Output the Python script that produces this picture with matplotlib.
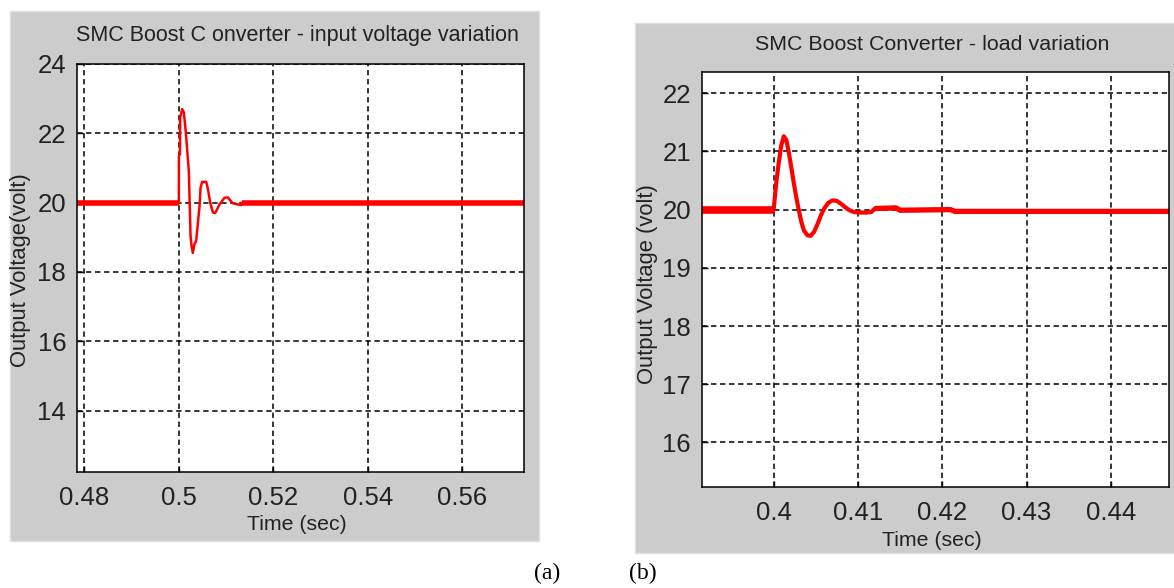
import matplotlib
matplotlib.use("Agg")
import matplotlib.pyplot as plt
from matplotlib.patches import Rectangle

# (a) SMC boost converter, input voltage variation
t_a = [0.4785, 0.5000, 0.50002, 0.50025, 0.50029, 0.50071, 0.50107, 0.50150, 0.50212,
       0.50248, 0.50270, 0.50297, 0.50330, 0.50368, 0.50403, 0.50439, 0.50460, 0.50495,
       0.50580, 0.50615, 0.50665, 0.50721, 0.50771, 0.50862, 0.50968, 0.51039, 0.51145,
       0.51321, 0.51342, 0.5731]
v_a = [20.0, 20.0, 21.35, 21.4, 22.45, 22.7, 22.6, 22.0, 20.9,
       19.06, 18.75, 18.55, 18.8, 18.9, 19.4, 19.9, 20.43, 20.6,
       20.6, 20.4, 20.0, 19.72, 19.7, 19.95, 20.14, 20.15, 19.98,
       19.93, 20.0, 20.0]

# (b) SMC boost converter, load variation
t_b = [0.3915, 0.4000, 0.4003, 0.4006, 0.4009, 0.4012, 0.4015, 0.4018, 0.4021, 0.4024,
       0.4027, 0.4030, 0.4033, 0.4036, 0.4040, 0.4044, 0.4048, 0.4052, 0.4056, 0.4060,
       0.4065, 0.4070, 0.4075, 0.4080, 0.4085, 0.4090, 0.4095, 0.4100, 0.4110, 0.4116,
       0.4120, 0.4145, 0.4150, 0.4210, 0.4215, 0.4469]
v_b = [20.0, 20.0, 20.45, 20.8, 21.1, 21.26, 21.2, 20.98, 20.72, 20.45,
       20.2, 19.98, 19.78, 19.64, 19.56, 19.55, 19.62, 19.75, 19.9, 20.02,
       20.12, 20.16, 20.15, 20.1, 20.04, 19.99, 19.96, 19.95, 19.95, 19.96,
       20.02, 20.03, 19.99, 20.0, 19.97, 19.97]

xticks_a = [0.48, 0.50, 0.52, 0.54, 0.56]
xlabels_a = ['0.48', '0.5', '0.52', '0.54', '0.56']
yticks_a = [14, 16, 18, 20, 22, 24]
xticks_b = [0.40, 0.41, 0.42, 0.43, 0.44]
xlabels_b = ['0.4', '0.41', '0.42', '0.43', '0.44']
yticks_b = [16, 17, 18, 19, 20, 21, 22]

W, H = 1174, 588
SANS = 'Liberation Sans'
GRAY = '#cccccc'
TXT = '#222222'


def fx(px):
    return px / W


def fy(py):
    return 1 - py / H


fig = plt.figure(figsize=(W / 100, H / 100), dpi=100)
fig.patch.set_facecolor('white')

# gray matlab figure backgrounds
fig.add_artist(Rectangle((fx(10), fy(541)), 529 / W, 530 / H, transform=fig.transFigure,
                         facecolor=GRAY, edgecolor='#e0e0e0', lw=1, zorder=0))
fig.add_artist(Rectangle((fx(635), fy(553)), 540 / W, 530 / H, transform=fig.transFigure,
                         facecolor=GRAY, edgecolor='#e0e0e0', lw=1, zorder=0))


def style(ax, xt, xl, yt, xlim, ylim):
    ax.set_xlim(*xlim)
    ax.set_ylim(*ylim)
    ax.set_xticks(xt)
    ax.set_xticklabels(xl)
    ax.set_yticks(yt)
    ax.set_yticklabels([str(v) for v in yt])
    ax.grid(True, color='k', linestyle=(0, (3.5, 2.4)), linewidth=1.1)
    ax.tick_params(direction='in', length=4, width=1, colors='k', labelcolor=TXT,
                   labelsize=18.5, pad=8)
    for lab in ax.get_xticklabels() + ax.get_yticklabels():
        lab.set_family(SANS)
    for sp in ax.spines.values():
        sp.set_linewidth(1.1)
        sp.set_color('k')
    ax.set_facecolor('white')


# ---- (a)
ax1 = fig.add_axes([fx(77.3), fy(472.3), (524 - 77.3) / W, (472.3 - 64) / H])
ax1.plot(t_a, v_a, color='red', lw=1.8)
ax1.plot(t_a[:2], v_a[:2], color='red', lw=4.0, solid_capstyle='butt')
ax1.plot(t_a[-2:], v_a[-2:], color='red', lw=4.0, solid_capstyle='butt')
style(ax1, xticks_a, xlabels_a, yticks_a, (0.4785, 0.5731), (12.22, 24))
ax1.tick_params(axis='x', pad=10)

fig.text(fx(297), fy(36), 'SMC Boost C onverter - input voltage variation', family=SANS,
         fontsize=15.5, color=TXT, ha='center', va='center')
fig.text(fx(297), fy(525), 'Time (sec)', family=SANS, fontsize=15.3, color=TXT,
         ha='center', va='center')
fig.text(fx(21), fy(270), 'Output Voltage(volt)', family=SANS, fontsize=15.8, color=TXT,
         ha='center', va='center', rotation=90)

# ---- (b)
ax2 = fig.add_axes([fx(702), fy(486.7), (1169 - 702) / W, (486.7 - 71.7) / H])
ax2.plot(t_b, v_b, color='red', lw=3.0)
ax2.plot(t_b[:2], v_b[:2], color='red', lw=5.5, solid_capstyle='butt')
ax2.plot(t_b[-6:], v_b[-6:], color='red', lw=3.8, solid_capstyle='butt')
style(ax2, xticks_b, xlabels_b, yticks_b, (0.3915, 0.4469), (15.24, 22.37))
ax2.tick_params(axis='x', pad=10)

fig.text(fx(932), fy(45), 'SMC Boost Converter - load variation', family=SANS,
         fontsize=15.4, color=TXT, ha='center', va='center')
fig.text(fx(932), fy(540), 'Time (sec)', family=SANS, fontsize=15.3, color=TXT,
         ha='center', va='center')
fig.text(fx(647), fy(284), 'Output Voltage (volt)', family=SANS, fontsize=15.8, color=TXT,
         ha='center', va='center', rotation=90)

# captions
fig.text(fx(547), fy(573), '(a)', family='Liberation Serif', fontsize=17, color='k',
         ha='center', va='center')
fig.text(fx(643), fy(573), '(b)', family='Liberation Serif', fontsize=17, color='k',
         ha='center', va='center')

fig.savefig('out.png', dpi=100)
